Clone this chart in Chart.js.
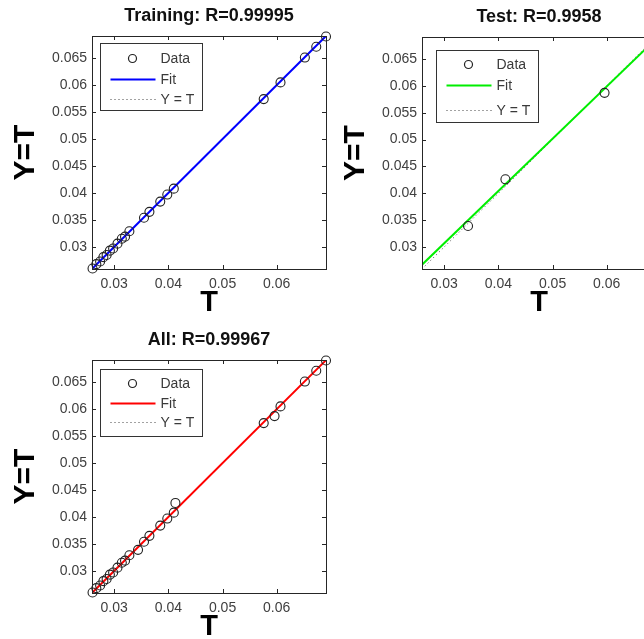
<!DOCTYPE html>
<html>
<head>
<meta charset="utf-8">
<script src="https://cdn.jsdelivr.net/npm/chart.js@4.4.1/dist/chart.umd.min.js"></script>
<style>
html,body{margin:0;padding:0;background:#fff;overflow:hidden;}
#hoja{position:relative;width:644px;height:639px;overflow:hidden;}
canvas{position:absolute;}
</style>
</head>
<body>
<div id="hoja">
<canvas id="c-train" width="340" height="320" style="left:0px;top:0px;width:340px;height:320px"></canvas>
<canvas id="c-test" width="340" height="320" style="left:330px;top:0px;width:340px;height:320px"></canvas>
<canvas id="c-all" width="340" height="320" style="left:0px;top:324px;width:340px;height:320px"></canvas>
</div>
<script>
//DATOS (T = objetivo, Y = salida de la red)
const trainT=[0.0260,0.0267,0.0274,0.0280,0.0286,0.0292,0.0298,0.0306,0.0314,0.0320,0.0328,0.0355,0.0365,0.0385,0.0398,0.0410,0.0576,0.0607,0.0652,0.0673,0.0691];
const trainY=[0.0260,0.0268,0.0273,0.0281,0.0285,0.0293,0.0297,0.0306,0.0315,0.0319,0.0329,0.0354,0.0365,0.0384,0.0397,0.0408,0.0574,0.0605,0.0651,0.0671,0.0690];

const testT=[0.0344,0.0413,0.0596];
const testY=[0.0339,0.0426,0.0587];

//All = training + test
const allT=trainT.concat(testT);
const allY=trainY.concat(testY);

//recta de ajuste [pendiente, intercepto]
const trainFit=[1.0,0.0];
const testFit=[0.973,0.0015];
const allFit=[0.999,0.00003];

const titulos=['Training: R=0.99995','Test: R=0.9958','All: R=0.99967'];
const leyenda=['Data','Fit','Y = T'];

//EJES
const axMin=0.0259;
const axMax=0.0691;
const xTicks=[0.03,0.04,0.05,0.06];
const yTicks=[0.03,0.035,0.04,0.045,0.05,0.055,0.06,0.065];

const FUENTE='"Liberation Sans", Arial, sans-serif';

//marco, ticks hacia adentro y leyenda dentro del area
const marco={
    id:'marco',
    afterDraw(chart,args,opts){
        const ctx=chart.ctx;
        const a=chart.chartArea;
        const sx=chart.scales.x, sy=chart.scales.y;
        ctx.save();
        ctx.strokeStyle='#262626';
        ctx.lineWidth=1;
        ctx.setLineDash([]);
        ctx.beginPath();
        xTicks.forEach(v=>{
            const px=Math.round(sx.getPixelForValue(v))+0.5;
            ctx.moveTo(px,a.bottom);ctx.lineTo(px,a.bottom-4);
            ctx.moveTo(px,a.top);ctx.lineTo(px,a.top+4);
        });
        yTicks.forEach(v=>{
            const py=Math.round(sy.getPixelForValue(v))+0.5;
            ctx.moveTo(a.left,py);ctx.lineTo(a.left+4,py);
            ctx.moveTo(a.right,py);ctx.lineTo(a.right-4,py);
        });
        ctx.stroke();
        ctx.strokeRect(Math.round(a.left)+0.5,Math.round(a.top)+0.5,Math.round(a.right-a.left),Math.round(a.bottom-a.top));

        //leyenda
        const c=opts.caja;
        const bx=Math.round(a.left+c.dx)+0.5, by=Math.round(a.top+c.dy)+0.5;
        ctx.fillStyle='#fff';
        ctx.fillRect(bx,by,c.w,c.h);
        ctx.strokeStyle='#333';
        ctx.strokeRect(bx,by,c.w,c.h);
        const ds=chart.data.datasets;
        ctx.font='14px '+FUENTE;
        ctx.textBaseline='middle';
        ctx.textAlign='left';
        c.filas.forEach((fy,i)=>{
            const y=by+fy;
            if(i==0){
                ctx.strokeStyle=ds[0].borderColor;
                ctx.lineWidth=1.2;
                ctx.beginPath();
                ctx.arc(bx+32,y,4,0,Math.PI*2);
                ctx.stroke();
            }else{
                ctx.strokeStyle=ds[i].borderColor;
                ctx.lineWidth=ds[i].borderWidth;
                ctx.setLineDash(ds[i].borderDash||[]);
                ctx.beginPath();
                ctx.moveTo(bx+10,y);ctx.lineTo(bx+55,y);
                ctx.stroke();
                ctx.setLineDash([]);
            }
            ctx.fillStyle='#3a3a3a';
            ctx.fillText(ds[i].label,bx+60,y+1);
        });
        ctx.restore();
    }
};

function crearGrafico(id,titulo,T,Y,fit,colorFit,caja,padTop){
    const puntos=T.map((t,i)=>({x:t,y:Y[i]}));
    const recta=[{x:axMin,y:fit[0]*axMin+fit[1]},{x:axMax,y:fit[0]*axMax+fit[1]}];
    const identidad=[{x:axMin,y:axMin},{x:axMax,y:axMax}];
    return new Chart(document.getElementById(id),{
        type:'scatter',
        data:{
            datasets:[
                {label:leyenda[0],data:puntos,borderColor:'#222',backgroundColor:'rgba(0,0,0,0)',pointRadius:4.5,pointHoverRadius:4.5,borderWidth:1.1,clip:false},
                {label:leyenda[1],data:recta,showLine:true,borderColor:colorFit,borderWidth:2,pointRadius:0},
                {label:leyenda[2],data:identidad,showLine:true,borderColor:'#444',borderWidth:1,borderDash:[1,3],pointRadius:0}
            ]
        },
        options:{
            responsive:false,
            animation:false,
            devicePixelRatio:1,
            events:[],
            layout:{padding:{left:0,right:14,top:0,bottom:0}},
            plugins:{
                legend:{display:false},
                tooltip:{enabled:false},
                title:{display:true,text:titulo,fullSize:false,color:'#111',font:{family:FUENTE,size:18,weight:'bold'},padding:{top:padTop,bottom:9.4}},
                marco:{caja:caja}
            },
            scales:{
                x:{
                    type:'linear',min:axMin,max:axMax,
                    grid:{display:false,drawTicks:false},
                    border:{display:false},
                    afterBuildTicks:s=>{s.ticks=xTicks.map(v=>({value:v}));},
                    afterFit:s=>{s.height=51;},
                    ticks:{autoSkip:false,maxRotation:0,padding:7,color:'#404040',font:{family:FUENTE,size:14},callback:v=>String(v)},
                    title:{display:true,text:'T',color:'#000',font:{family:FUENTE,size:29,weight:'bold'},padding:0}
                },
                y:{
                    type:'linear',min:axMin,max:axMax,
                    grid:{display:false,drawTicks:false},
                    border:{display:false},
                    afterBuildTicks:s=>{s.ticks=yTicks.map(v=>({value:v}));},
                    afterFit:s=>{s.width=92;},
                    ticks:{autoSkip:false,padding:5,color:'#404040',font:{family:FUENTE,size:14},callback:v=>String(v)},
                    title:{display:true,text:'Y=T',color:'#000',font:{family:FUENTE,size:30,weight:'bold'},padding:{top:8,bottom:0}}
                }
            }
        },
        plugins:[marco]
    });
}

crearGrafico('c-train',titulos[0],trainT,trainY,trainFit,'#0000ff',{dx:8,dy:7,w:102,h:67,filas:[15,36,56]},5);
crearGrafico('c-test',titulos[1],testT,testY,testFit,'#00ee00',{dx:14,dy:13,w:102,h:72,filas:[14,35,60]},6);
crearGrafico('c-all',titulos[2],allT,allY,allFit,'#ff0000',{dx:8,dy:9,w:102,h:67,filas:[14,34,53]},5);
</script>
</body>
</html>
